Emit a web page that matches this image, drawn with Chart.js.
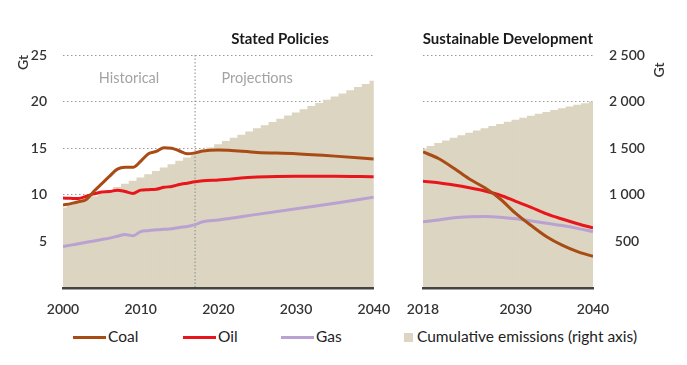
<!DOCTYPE html>
<html>
<head>
<meta charset="utf-8">
<title>CO2 emissions by fuel</title>
<script src="https://cdn.jsdelivr.net/npm/chart.js@4.4.1/dist/chart.umd.min.js"></script>
<style>
  body { margin: 0; background: #fff; font-family: Lato, sans-serif; }
  #wrap { position: relative; width: 687px; height: 365px; overflow: hidden; }
  .panel { position: absolute; top: 0; height: 320px; }
  #leftPanel { left: 0; width: 395px; }
  #rightPanel { left: 395px; width: 292px; }
  .leg { position: absolute; top: 327px; height: 18px; line-height: 18px; font-size: 15.5px; color: #222; white-space: nowrap; }
  .leg .ln { display: inline-block; width: 33px; height: 3px; vertical-align: middle; margin-right: 2px; position: relative; top: -1px; }
  .leg .sq { display: inline-block; width: 9px; height: 9px; vertical-align: middle; margin-right: 4px; position: relative; top: -1px; }
</style>
</head>
<body>
<div id="wrap">
  <div class="panel" id="leftPanel"><canvas id="spChart"></canvas></div>
  <div class="panel" id="rightPanel"><canvas id="sdsChart"></canvas></div>
  <div class="leg" style="left:73px"><span class="ln" style="background:#a94b14"></span>Coal</div>
  <div class="leg" style="left:183px"><span class="ln" style="background:#e8161c"></span>Oil</div>
  <div class="leg" style="left:281px"><span class="ln" style="background:#b9a2d2"></span>Gas</div>
  <div class="leg" style="left:404px"><span class="sq" style="background:#dcd5c1"></span>Cumulative emissions (right axis)</div>
</div>
<script>
// Stated Policies (Gt CO2 per year)
const spYears = [2000, 2001, 2002, 2003, 2004, 2005, 2006, 2007, 2008, 2009, 2010, 2011, 2012, 2013, 2014, 2015, 2016, 2017, 2018, 2020, 2025, 2030, 2035, 2040];
const spCoal = [8.9, 9.05, 9.25, 9.5, 10.4, 11.2, 12.0, 12.75, 12.95, 12.95, 13.6, 14.4, 14.65, 15.05, 15.0, 14.7, 14.4, 14.5, 14.7, 14.8, 14.55, 14.4, 14.15, 13.85];
const spOil = [9.65, 9.62, 9.6, 9.85, 10.1, 10.3, 10.35, 10.5, 10.35, 10.15, 10.5, 10.55, 10.6, 10.8, 10.9, 11.1, 11.25, 11.4, 11.5, 11.6, 11.9, 12.0, 12.0, 11.95];
const spGas = [4.46, 4.6, 4.75, 4.9, 5.05, 5.2, 5.35, 5.55, 5.75, 5.6, 6.05, 6.15, 6.25, 6.3, 6.35, 6.5, 6.6, 6.8, 7.1, 7.3, 7.9, 8.5, 9.1, 9.75];

// Stated Policies cumulative emissions (Gt, right axis)
const spCumYears = [2000, 2001, 2002, 2003, 2004, 2005, 2006, 2007, 2008, 2009, 2010, 2011, 2012, 2013, 2014, 2015, 2016, 2017, 2018, 2019, 2020,
  2021, 2022, 2023, 2024, 2025, 2026, 2027, 2028, 2029, 2030, 2031, 2032, 2033, 2034, 2035, 2036, 2037, 2038, 2039, 2040];
const spCumulative = [860, 890, 920, 950, 981, 1013, 1046, 1080, 1114, 1148, 1183, 1218, 1253, 1289, 1325, 1361, 1397, 1433, 1469, 1505, 1540,
  1574, 1608, 1642, 1676, 1710, 1744, 1778, 1812, 1846, 1880, 1914, 1948, 1982, 2016, 2050, 2084, 2118, 2152, 2186, 2220];

// Sustainable Development
const sdsYears = [2018, 2020, 2022, 2024, 2026, 2028, 2030, 2032, 2034, 2036, 2038, 2040];
const sdsCoal = [14.6, 13.9, 12.85, 11.7, 10.75, 9.55, 8.0, 6.7, 5.5, 4.6, 3.9, 3.4];
const sdsOil = [11.45, 11.3, 11.05, 10.75, 10.4, 9.95, 9.3, 8.65, 7.95, 7.4, 6.9, 6.45];
const sdsGas = [7.1, 7.3, 7.55, 7.65, 7.68, 7.6, 7.43, 7.2, 6.95, 6.7, 6.4, 6.05];

const sdsCumYears = [2018, 2019, 2020, 2021, 2022, 2023, 2024, 2025, 2026, 2027, 2028, 2029, 2030, 2031, 2032, 2033, 2034, 2035, 2036, 2037, 2038, 2039, 2040];
const sdsCumulative = [1490, 1521, 1551, 1580, 1608, 1635, 1661, 1686, 1710, 1734, 1757, 1780, 1802, 1824, 1845, 1866, 1886, 1906, 1925, 1944, 1962, 1980, 1998];

// axis ticks
const spTicks = [2000, 2010, 2020, 2030, 2040];
const sdsTicks = [2018, 2030, 2040];
const gtTicks = [5, 10, 15, 20, 25];
const cumTicks = [500, 1000, 1500, 2000, 2500];

const COAL = '#a94b14';
const OIL = '#e8161c';
const GAS = '#b9a2d2';
const CUM = '#dcd5c1';
const FONT = 'Lato, sans-serif';

const pts = (xs, ys) => xs.map((x, i) => ({ x: x, y: ys[i] }));
const fixTicks = list => scale => { scale.ticks = list.map(v => ({ value: v })); };
const spaced = v => String(v).replace(/\B(?=(\d{3})+(?!\d))/g, ' ');

function lineSet(label, color, xs, ys, yAxis) {
  return {
    type: 'line', label: label, data: pts(xs, ys), yAxisID: yAxis,
    borderColor: color, borderWidth: 3, pointRadius: 0,
    cubicInterpolationMode: 'monotone', order: 1
  };
}

function cumSet(xs, ys, yAxis) {
  return {
    type: 'bar', label: 'Cumulative emissions (right axis)', data: pts(xs, ys), yAxisID: yAxis,
    backgroundColor: CUM, borderWidth: 0, barPercentage: 1, categoryPercentage: 1, order: 10
  };
}

// panel titles, divider, in-chart labels, unit on right axis
const annotations = {
  id: 'annotations',
  afterDatasetDraw(chart, args, opts) {
    if (args.index !== 0 || opts.divider == null) return;
    const { ctx, chartArea, scales } = chart;
    const x = scales.x.getPixelForValue(opts.divider);
    ctx.save();
    ctx.strokeStyle = '#8a8a8a';
    ctx.lineWidth = 1;
    ctx.setLineDash([1.5, 2]);
    ctx.beginPath();
    ctx.moveTo(x, chartArea.top);
    ctx.lineTo(x, chartArea.bottom);
    ctx.stroke();
    ctx.restore();
  },
  afterDraw(chart, args, opts) {
    const { ctx, chartArea, scales } = chart;
    ctx.save();
    ctx.textBaseline = 'middle';
    ctx.font = 'bold 15px ' + FONT;
    ctx.fillStyle = '#1a1a1a';
    ctx.textAlign = 'right';
    ctx.fillText(opts.title, chartArea.right - opts.titleInset, chartArea.top - 16);
    ctx.font = '14.5px ' + FONT;
    ctx.fillStyle = '#a3a3a3';
    ctx.textAlign = 'center';
    (opts.labels || []).forEach(l => {
      ctx.fillText(l.text, scales.x.getPixelForValue(l.x), scales[l.axis].getPixelForValue(l.y));
    });
    if (opts.unit) {
      ctx.font = '600 14px ' + FONT;
      ctx.fillStyle = '#333';
      ctx.translate(chartArea.right + opts.unit.dx, chartArea.top + opts.unit.dy);
      ctx.rotate(-Math.PI / 2);
      ctx.fillText(opts.unit.text, 0, 0);
    }
    ctx.restore();
  }
};

const tickFont = { family: FONT, size: 14, weight: '600' };
const dotted = { display: false, dash: [1.5, 2.5] };

function build() {
  new Chart(document.getElementById('spChart'), {
    type: 'line',
    data: {
      datasets: [
        cumSet(spCumYears, spCumulative, 'cum'),
        lineSet('Coal', COAL, spYears, spCoal, 'y'),
        lineSet('Oil', OIL, spYears, spOil, 'y'),
        lineSet('Gas', GAS, spYears, spGas, 'y')
      ]
    },
    options: {
      responsive: true,
      maintainAspectRatio: false,
      animation: false,
      layout: { padding: { top: 55, right: 17, left: 0, bottom: 0 } },
      plugins: {
        legend: { display: false },
        tooltip: { enabled: false },
        annotations: {
          title: 'Stated Policies', titleInset: 45, divider: 2017,
          labels: [
            { text: 'Historical', x: 2008.5, y: 22.5, axis: 'y' },
            { text: 'Projections', x: 2025, y: 22.45, axis: 'y' }
          ]
        }
      },
      scales: {
        x: {
          type: 'linear', min: 2000, max: 2040, offset: false,
          afterBuildTicks: fixTicks(spTicks),
          afterFit: s => { s.height = 32; },
          grid: { display: false, offset: false },
          border: { display: true, color: '#444', width: 2.5, z: 1 },
          ticks: { font: tickFont, color: '#333', padding: 5, maxRotation: 0, callback: v => String(v) }
        },
        y: {
          position: 'left', min: 0, max: 25,
          afterBuildTicks: fixTicks(gtTicks),
          afterFit: s => { s.width = 63; },
          grid: { color: '#9a9a9a', lineWidth: 1, drawTicks: false },
          border: dotted,
          ticks: { font: tickFont, color: '#333', padding: 16 },
          title: { display: true, text: 'Gt', align: 'end', font: { family: FONT, size: 14, weight: '600' }, color: '#333', padding: { top: 15, bottom: 0 } }
        },
        cum: { display: false, min: 0, max: 2500 }
      }
    },
    plugins: [annotations]
  });

  new Chart(document.getElementById('sdsChart'), {
    type: 'line',
    data: {
      datasets: [
        cumSet(sdsCumYears, sdsCumulative, 'y'),
        lineSet('Coal', COAL, sdsYears, sdsCoal, 'gt'),
        lineSet('Oil', OIL, sdsYears, sdsOil, 'gt'),
        lineSet('Gas', GAS, sdsYears, sdsGas, 'gt')
      ]
    },
    options: {
      responsive: true,
      maintainAspectRatio: false,
      animation: false,
      layout: { padding: { top: 55, right: 0, left: 28, bottom: 0 } },
      plugins: {
        legend: { display: false },
        tooltip: { enabled: false },
        annotations: {
          title: 'Sustainable Development', titleInset: 0,
          unit: { text: 'Gt', dx: 66, dy: 15 }
        }
      },
      scales: {
        x: {
          type: 'linear', min: 2018, max: 2040, offset: false,
          afterBuildTicks: fixTicks(sdsTicks),
          afterFit: s => { s.height = 32; },
          grid: { display: false, offset: false },
          border: { display: true, color: '#444', width: 2.5, z: 1 },
          ticks: { font: tickFont, color: '#333', padding: 5, maxRotation: 0, callback: v => String(v) }
        },
        y: {
          position: 'right', min: 0, max: 2500,
          afterBuildTicks: fixTicks(cumTicks),
          afterFit: s => { s.width = 94; },
          grid: { color: '#9a9a9a', lineWidth: 1, drawTicks: false },
          border: dotted,
          ticks: { font: tickFont, color: '#333', padding: 16, crossAlign: 'center', callback: v => spaced(v) }
        },
        gt: { display: false, min: 0, max: 25 }
      }
    },
    plugins: [annotations]
  });
}

document.fonts.load('14px Lato').then(build, build);
</script>
</body>
</html>
